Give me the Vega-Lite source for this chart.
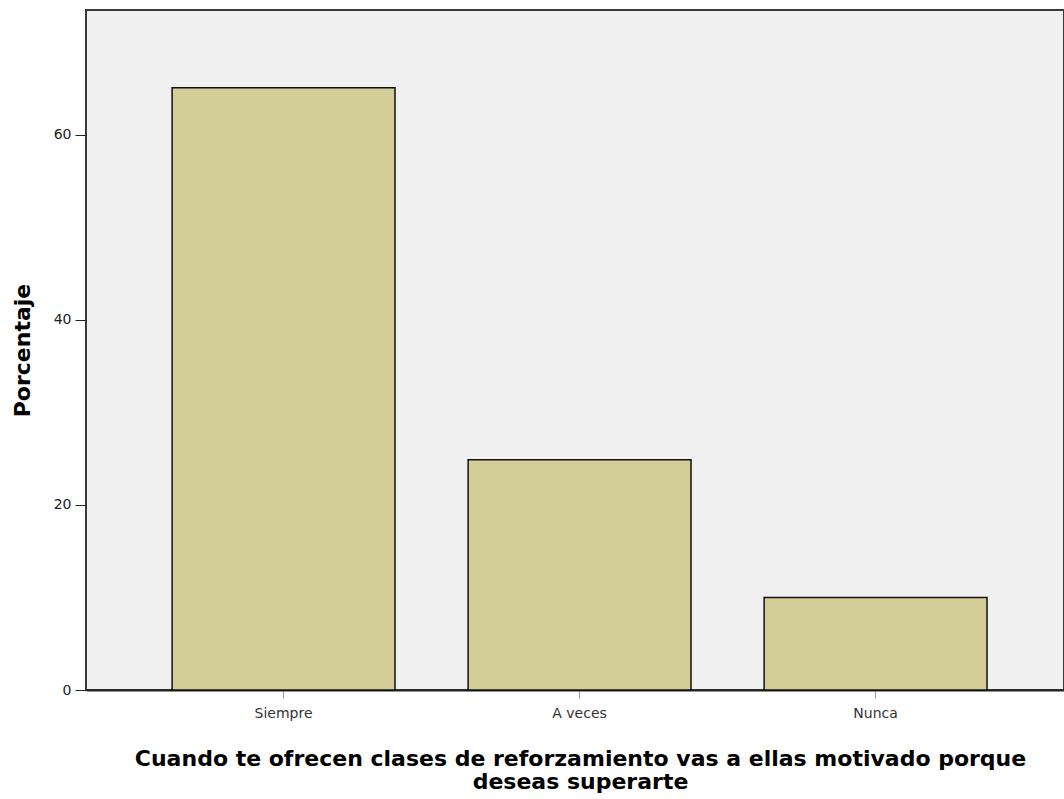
{
  "$schema": "https://vega.github.io/schema/vega-lite/v6.json",
  "width": 978,
  "height": 680,
  "autosize": {"type": "none"},
  "padding": {"left": 86, "top": 10, "right": 0, "bottom": 109},
  "background": "white",
  "config": {
    "view": {"fill": "#f0f0f0", "stroke": "#3a3a3a", "strokeWidth": 2}
  },
  "data": {
    "values": [
      {"respuesta": "Siempre", "porcentaje": 65.1},
      {"respuesta": "A veces", "porcentaje": 24.9},
      {"respuesta": "Nunca", "porcentaje": 10.0}
    ]
  },
  "mark": {"type": "bar", "fill": "#d3ce97", "stroke": "#111111", "strokeWidth": 1.5},
  "encoding": {
    "x": {
      "field": "respuesta",
      "type": "nominal",
      "sort": ["Siempre", "A veces", "Nunca"],
      "scale": {"paddingInner": 0.247, "paddingOuter": 0.2755, "align": 0.528},
      "axis": {
        "title": ["Cuando te ofrecen clases de reforzamiento vas a ellas motivado porque", "deseas superarte"],
        "titleFont": "DejaVu Sans",
        "titleFontSize": 22,
        "titleFontWeight": "bold",
        "titleColor": "#000000",
        "titleLineHeight": 23,
        "titlePadding": 28,
        "titleX": 494,
        "labelAngle": 0,
        "labelFont": "DejaVu Sans",
        "labelFontSize": 14,
        "labelColor": "#333333",
        "labelPadding": 8,
        "tickSize": 8,
        "tickColor": "#999999",
        "domainColor": "#222222",
        "domainWidth": 2
      }
    },
    "y": {
      "field": "porcentaje",
      "type": "quantitative",
      "scale": {"domain": [0, 73.5], "nice": false},
      "axis": {
        "title": "Porcentaje",
        "titleFont": "DejaVu Sans",
        "titleFontSize": 22,
        "titleFontWeight": "bold",
        "titleColor": "#000000",
        "titlePadding": 19,
        "values": [0, 20, 40, 60],
        "grid": false,
        "labelFont": "DejaVu Sans",
        "labelFontSize": 14,
        "labelColor": "#222222",
        "labelPadding": 4,
        "tickSize": 11,
        "tickColor": "#222222",
        "domain": false
      }
    }
  }
}
